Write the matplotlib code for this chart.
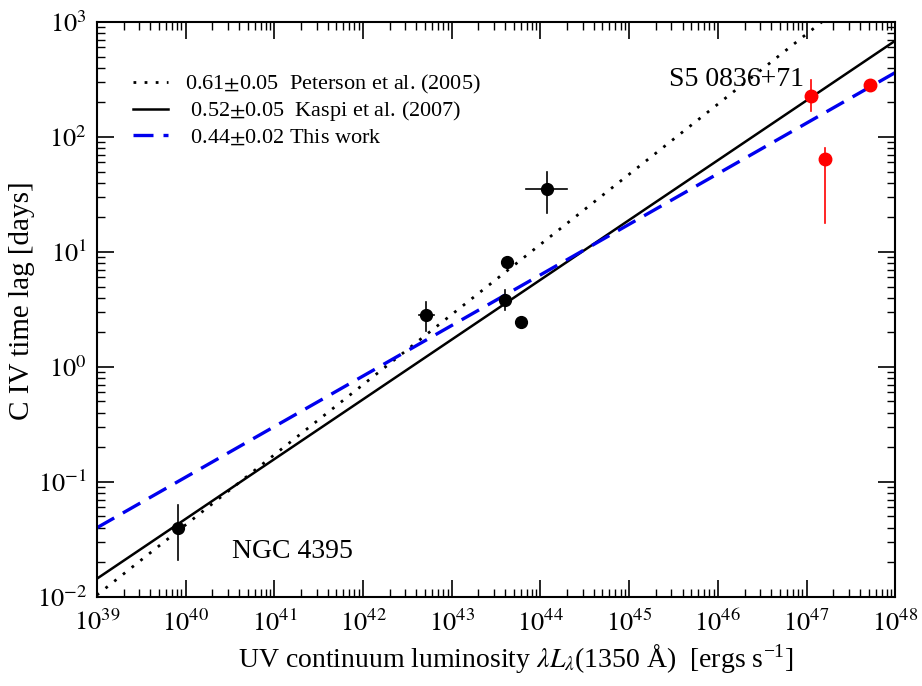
import numpy as np
import matplotlib
matplotlib.use("Agg")
import matplotlib.pyplot as plt
from matplotlib.ticker import FixedLocator, LogLocator, NullFormatter

plt.rcParams['font.family'] = ['Liberation Serif', 'DejaVu Serif']
plt.rcParams['mathtext.fontset'] = 'stix'

# --- data ---
# black points: luminosity, lag, lag errors (lo, hi), log-lum error (dex)
lum_blk = [8.2e39, 5.2e42, 4.2e43, 4.0e43, 6.0e43, 1.18e44]
lag_blk = [0.040, 2.83, 8.2, 3.85, 2.46, 35.3]
lag_blk_lo = [0.021, 2.05, 8.2, 3.1, 2.46, 21.8]
lag_blk_hi = [0.063, 3.7, 8.2, 4.7, 2.46, 49.7]
dlum_blk = [0.0, 0.08, 0.0, 0.06, 0.0, 0.23]

# red points (S5 0836+71)
lum_red = [1.12e47, 1.6e47, 5.2e47]
lag_red = [227, 64, 283]
lag_red_lo = [168, 17.9, 250]
lag_red_hi = [313, 80, 300]

# fitted relations: log(lag) = a + b * (log L - 39)
fit_labels = ["0.61$\\pm$0.05  Peterson et al. (2005)",
              " 0.52$\\pm$0.05  Kaspi et al. (2007)",
              " 0.44$\\pm$0.02 This work"]
fit_slope = [0.61, 0.52, 0.44]
fit_icpt = [-1.985, -1.843, -1.40]

x_decades = np.arange(39, 49)
y_decades = np.arange(-2, 4)

fig = plt.figure(figsize=(9.22, 6.86), dpi=100)
ax = fig.add_axes([0.105, 0.130, 0.866, 0.838])

logL = np.linspace(39, 48, 200)
styles = [dict(color='black', ls=(0, (1, 3)), lw=2.0),
          dict(color='black', ls='-', lw=1.8),
          dict(color='#0000ee', ls=(0, (6, 3)), lw=2.4)]
for lab, b, a, st in zip(fit_labels, fit_slope, fit_icpt, styles):
    ax.plot(10**logL, 10**(a + b*(logL - 39)), label=lab, **st)

# black points
for L, t, lo, hi, dl in zip(lum_blk, lag_blk, lag_blk_lo, lag_blk_hi, dlum_blk):
    ax.plot([L, L], [lo, hi], color='black', lw=1.2)
    if dl > 0:
        ax.plot([L*10**-dl, L*10**dl], [t, t], color='black', lw=1.2)
ax.plot(lum_blk, lag_blk, 'o', color='black', ms=8.5, zorder=5)

# red points
for L, lo, hi in zip(lum_red, lag_red_lo, lag_red_hi):
    ax.plot([L, L], [lo, hi], color='red', lw=1.2)
ax.plot(lum_red, lag_red, 'o', color='red', ms=9, zorder=5)

ax.set_xscale('log')
ax.set_yscale('log')
ax.set_xlim(1e39, 1e48)
ax.set_ylim(1e-2, 1e3)

ax.xaxis.set_major_locator(FixedLocator(10.0**x_decades))
ax.yaxis.set_major_locator(FixedLocator(10.0**y_decades))
ax.set_xticklabels(["$10^{%d}$" % d for d in x_decades])
ax.set_yticklabels(["$10^{%d}$" % d for d in y_decades])
ax.xaxis.set_minor_locator(LogLocator(base=10, subs=np.arange(2, 10), numticks=20))
ax.yaxis.set_minor_locator(LogLocator(base=10, subs=np.arange(2, 10), numticks=20))
ax.xaxis.set_minor_formatter(NullFormatter())
ax.yaxis.set_minor_formatter(NullFormatter())

ax.tick_params(which='both', direction='in', top=True, right=True, labelsize=19)
ax.tick_params(which='major', length=12, width=1.2)
ax.tick_params(which='minor', length=6, width=1.0)
ax.tick_params(axis='x', pad=9)
ax.tick_params(axis='y', pad=7)
for s in ax.spines.values():
    s.set_linewidth(1.5)

ax.set_xlabel("UV continuum luminosity $\\lambda L_\\lambda$(1350 \u00c5)  [ergs s$^{\\mathregular{-1}}$]",
              fontsize=20)
ax.xaxis.set_label_coords(0.525, -0.078)
ax.set_ylabel("C IV time lag [days]", fontsize=21)
ax.yaxis.set_label_coords(-0.077, 0.515)

ax.text(1.64e46, 313, "S5 0836+71", fontsize=20, ha='center', va='center')
ax.text(1.6e41, 0.025, "NGC 4395", fontsize=20, ha='center', va='center')

leg = ax.legend(loc='upper left', bbox_to_anchor=(0.045, 0.911), frameon=False,
                fontsize=16, handlelength=1.6, handletextpad=0.77, labelspacing=0.15,
                borderpad=0, borderaxespad=0)

fig.savefig("out.png", dpi=100)
